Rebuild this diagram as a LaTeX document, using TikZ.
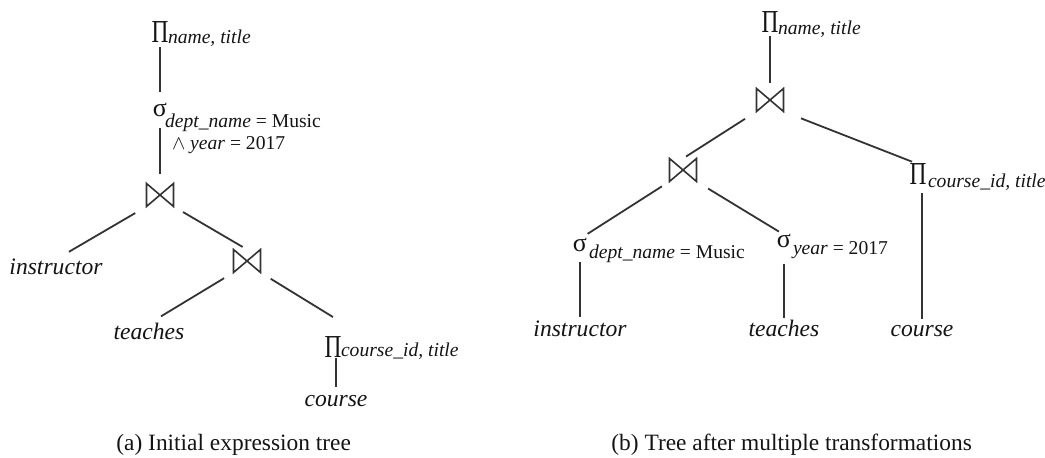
\documentclass[tikz,border=0pt]{standalone}
\usepackage{fontspec}
\setmainfont{Liberation Serif}
\usepackage{graphicx}
\definecolor{trline}{RGB}{51,51,51}
\definecolor{trtext}{RGB}{20,20,20}
\tikzset{
  opPi/.style={inner sep=0pt, outer sep=0pt, anchor=base, text=trtext,
               font=\fontsize{16pt}{18pt}\selectfont},
  opSigma/.style={inner sep=0pt, outer sep=0pt, anchor=base, text=trtext,
                  font=\fontsize{13pt}{15pt}\selectfont},
  opSub/.style={inner sep=0pt, outer sep=0pt, anchor=base west, text=trtext,
                font=\fontsize{9.8pt}{12pt}\selectfont},
  opJoin/.style={inner sep=0pt, outer sep=0pt, minimum width=13.5pt,
                 minimum height=11.5pt},
  relName/.style={inner sep=0pt, outer sep=0pt, anchor=base, text=trtext,
                  font=\fontsize{11.8pt}{14pt}\selectfont\itshape},
  capText/.style={inner sep=0pt, anchor=base west, text=trtext,
                  font=\fontsize{11.7pt}{14pt}\selectfont},
  treeEdge/.style={draw=trline, line width=0.9pt},
  joinTie/.style={draw=trline, line width=0.8pt}
}

\begin{document}
\begin{tikzpicture}[x=0.5pt,y=-0.5pt]
  \useasboundingbox (0,0) rectangle (1045,458);

  % (a) initial tree
  \node[opPi] (pa) at (160,43) {\scalebox{0.73}[1]{Π}};
  \node[opSub] (pasub) at (168,44) {\textit{name, title}};
  \node[opSigma] (sa) at (160,117) {σ};
  \node[opSub] (sasub) at (165,128) {\textit{dept\_name} = Music};
  \node[opSub] (sacond) at (172,150) {$\wedge$ \textit{year} = 2017};
  \node[opJoin] (ja1) at (160,195) {};
  \node[relName] (instr) at (56,275) {instructor};
  \node[opJoin] (ja2) at (247,261) {};
  \node[relName] (teach) at (149,340) {teaches};
  \node[opPi] (pc) at (333,358) {\scalebox{0.73}[1]{Π}};
  \node[opSub] (pcsub) at (341,357) {\textit{course\_id, title}};
  \node[relName] (course) at (336,407) {course};
  \node[capText] (capa) at (116,451) {(a) Initial expression tree};

  \draw[treeEdge, shorten <=2pt, shorten >=6pt] (pa.south) -- (sa.north);
  \draw[treeEdge, shorten <=5.5pt, shorten >=4.5pt] (sa.south) -- (ja1.north);
  \draw[treeEdge, shorten <=6.5pt, shorten >=7.5pt] (ja1.south west) -- (instr.north);
  \draw[treeEdge, shorten <=5.5pt, shorten >=2.5pt] (ja1.south east) -- (ja2.north);
  \draw[treeEdge, shorten <=5.5pt, shorten >=7pt] (ja2.south west) -- (teach.north);
  \draw[treeEdge, shorten <=6pt] (ja2.south east) -- ([yshift=10pt]pc.north);
  \draw[treeEdge, shorten >=4.5pt] (course.north |- pc.south) -- (course.north);

  % (b) after transformations
  \node[opPi] (pb) at (770,33) {\scalebox{0.73}[1]{Π}};
  \node[opSub] (pbsub) at (778,35) {\textit{name, title}};
  \node[opJoin] (jb1) at (770,100) {};
  \node[opJoin] (jb2) at (683,170) {};
  \node[opPi] (pd) at (918,185) {\scalebox{0.73}[1]{Π}};
  \node[opSub] (pdsub) at (928,188) {\textit{course\_id, title}};
  \node[opSigma] (sb1) at (580,252) {σ};
  \node[opSub] (sb1sub) at (589,259) {\textit{dept\_name} = Music};
  \node[opSigma] (sb2) at (784,248) {σ};
  \node[opSub] (sb2sub) at (793,255) {\textit{year} = 2017};
  \node[relName] (instrb) at (580,337) {instructor};
  \node[relName] (teachb) at (784,337) {teaches};
  \node[relName] (courseb) at (922,337) {course};
  \node[capText] (capb) at (611,451) {(b) Tree after multiple transformations};

  \draw[treeEdge, shorten <=1.5pt, shorten >=2.75pt] (pb.south) -- (jb1.north);
  \draw[treeEdge, shorten <=6.8pt, shorten >=1.8pt] (jb1.south west) -- (jb2.north);
  \draw[treeEdge, shorten <=9.4pt, shorten >=3.2pt] (jb1.south east) -- (pd.north);
  \draw[treeEdge, shorten <=4.5pt, shorten >=4.5pt] (jb2.south west) -- (sb1.north);
  \draw[treeEdge, shorten <=6.8pt, shorten >=3pt] (jb2.south east) -- (sb2.north);
  \draw[treeEdge, shorten <=5pt, shorten >=2pt] (sb1.south) -- (instrb.north);
  \draw[treeEdge, shorten <=8pt, shorten >=1.5pt] (sb2.south) -- (teachb.north);
  \draw[treeEdge, shorten <=4pt, shorten >=3.5pt] (courseb.north |- pd.south) -- (courseb.north);

  % join symbols
  \foreach \jn in {ja1,ja2,jb1,jb2}
    \draw[joinTie] (\jn.north west) -- (\jn.south east) -- (\jn.north east)
      -- (\jn.south west) -- cycle;
\end{tikzpicture}
\end{document}
